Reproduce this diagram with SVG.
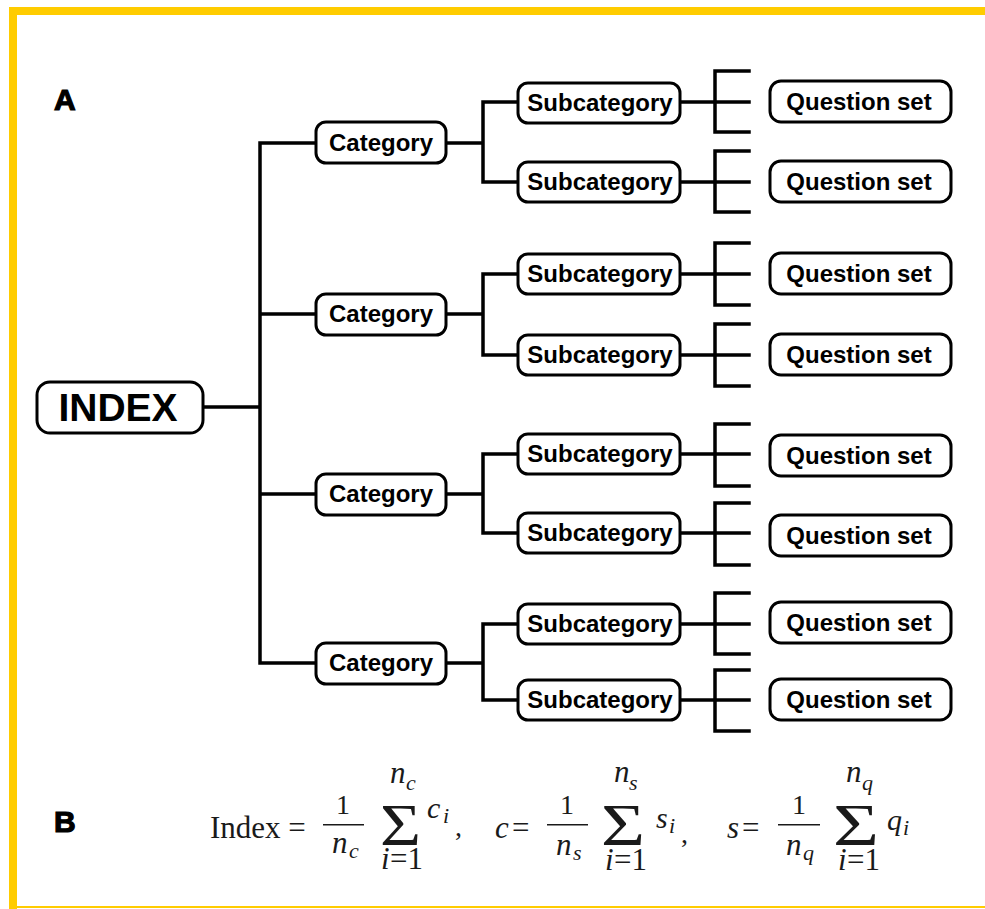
<svg xmlns="http://www.w3.org/2000/svg" width="985" height="909" viewBox="0 0 985 909">
<style>
.box{fill:#fff;stroke:#000;stroke-width:3}
.lbl{font-family:"Liberation Sans",Arial,sans-serif;font-weight:bold;font-size:24px;text-anchor:middle;fill:#000}
.ln{fill:none;stroke:#000;stroke-width:3.5;stroke-linejoin:miter;stroke-linecap:square}
.m{font-family:"Liberation Serif","Times New Roman",serif;fill:#1a1a1a}
.it{font-style:italic}
.big{font-family:"Liberation Sans",Arial,sans-serif;font-weight:900;font-size:30px;fill:#000;stroke:#000;stroke-width:1.2}
</style>
<rect x="0" y="0" width="985" height="909" fill="#fff"/>
<g id="frame">
<rect x="9" y="7" width="976" height="8" fill="#FFCC00"/>
<rect x="9" y="7" width="8" height="902" fill="#FFCC00"/>
<rect x="9" y="906" width="976" height="2" fill="#FFCC00"/>
</g>
<text class="big" x="54" y="110">A</text>
<text class="big" x="54" y="832">B</text>
<g id="connectors">
<path class="ln" d="M204 407H260M260 143V663M260 143H316M260 314H316M260 494H316M260 663H316"/>
<path class="ln" d="M446 143H483M483 102V182M483 102H518M483 182H518"/>
<path class="ln" d="M446 314H483M483 274V355M483 274H518M483 355H518"/>
<path class="ln" d="M446 494H483M483 454V533M483 454H518M483 533H518"/>
<path class="ln" d="M446 663H483M483 624V700M483 624H518M483 700H518"/>
<path class="ln" d="M680 102H749M749 71H715V132H749"/>
<path class="ln" d="M680 182H749M749 151H715V212H749"/>
<path class="ln" d="M680 274H749M749 243H715V305H749"/>
<path class="ln" d="M680 355H749M749 324H715V386H749"/>
<path class="ln" d="M680 454H749M749 424H715V486H749"/>
<path class="ln" d="M680 533H749M749 503H715V565H749"/>
<path class="ln" d="M680 624H749M749 593H715V654H749"/>
<path class="ln" d="M680 700H749M749 670H715V731H749"/>
</g>
<g id="index"><rect class="box" x="37" y="382" width="166" height="51" rx="13"/><text class="lbl" x="118" y="421" style="font-size:39px">INDEX</text></g>
<g id="cat1"><rect class="box" x="316" y="122" width="130" height="41" rx="10"/><text class="lbl" x="381" y="151">Category</text></g>
<g id="cat2"><rect class="box" x="316" y="294" width="130" height="41" rx="10"/><text class="lbl" x="381" y="322">Category</text></g>
<g id="cat3"><rect class="box" x="316" y="474" width="130" height="41" rx="10"/><text class="lbl" x="381" y="502">Category</text></g>
<g id="cat4"><rect class="box" x="316" y="643" width="130" height="41" rx="10"/><text class="lbl" x="381" y="671">Category</text></g>
<g id="sub1"><rect class="box" x="518" y="83" width="162" height="40" rx="10"/><text class="lbl" x="600" y="111">Subcategory</text></g>
<g id="sub2"><rect class="box" x="518" y="162" width="162" height="40" rx="10"/><text class="lbl" x="600" y="190">Subcategory</text></g>
<g id="sub3"><rect class="box" x="518" y="254" width="162" height="40" rx="10"/><text class="lbl" x="600" y="282">Subcategory</text></g>
<g id="sub4"><rect class="box" x="518" y="335" width="162" height="40" rx="10"/><text class="lbl" x="600" y="363">Subcategory</text></g>
<g id="sub5"><rect class="box" x="518" y="434" width="162" height="40" rx="10"/><text class="lbl" x="600" y="462">Subcategory</text></g>
<g id="sub6"><rect class="box" x="518" y="513" width="162" height="40" rx="10"/><text class="lbl" x="600" y="541">Subcategory</text></g>
<g id="sub7"><rect class="box" x="518" y="604" width="162" height="40" rx="10"/><text class="lbl" x="600" y="632">Subcategory</text></g>
<g id="sub8"><rect class="box" x="518" y="680" width="162" height="40" rx="10"/><text class="lbl" x="600" y="708">Subcategory</text></g>
<g id="q1"><rect class="box" x="770" y="81" width="181" height="41" rx="11"/><text class="lbl" x="859" y="110">Question set</text></g>
<g id="q2"><rect class="box" x="770" y="161" width="181" height="41" rx="11"/><text class="lbl" x="859" y="190">Question set</text></g>
<g id="q3"><rect class="box" x="770" y="253" width="181" height="41" rx="11"/><text class="lbl" x="859" y="282">Question set</text></g>
<g id="q4"><rect class="box" x="770" y="334" width="181" height="41" rx="11"/><text class="lbl" x="859" y="363">Question set</text></g>
<g id="q5"><rect class="box" x="770" y="435" width="181" height="41" rx="11"/><text class="lbl" x="859" y="464">Question set</text></g>
<g id="q6"><rect class="box" x="770" y="515" width="181" height="41" rx="11"/><text class="lbl" x="859" y="544">Question set</text></g>
<g id="q7"><rect class="box" x="770" y="602" width="181" height="41" rx="11"/><text class="lbl" x="859" y="631">Question set</text></g>
<g id="q8"><rect class="box" x="770" y="679" width="181" height="41" rx="11"/><text class="lbl" x="859" y="708">Question set</text></g>
<g id="formula">
<text class="m" x="210" y="838" font-size="31">Index =</text>
<text class="m" x="343" y="814" font-size="28" text-anchor="middle">1</text>
<rect x="323" y="824" width="41" height="1.5" fill="#1a1a1a"/>
<text class="m it" x="332" y="853" font-size="31">n</text><text class="m it" x="349" y="858" font-size="22">c</text>
<text class="m" transform="translate(380,845) scale(1,1.36)" font-size="44" textLength="41" lengthAdjust="spacingAndGlyphs">Σ</text>
<text class="m it" x="390" y="783" font-size="31">n</text><text class="m it" x="406" y="790" font-size="22">c</text>
<text class="m it" x="381" y="869" font-size="31">i</text><text class="m" x="390" y="869" font-size="31">=1</text>
<text class="m it" x="427" y="818" font-size="30">c</text><text class="m it" x="443" y="823" font-size="22">i</text>
<text class="m" x="455" y="836" font-size="28">,</text>
<text class="m it" x="495" y="838" font-size="31">c</text><text class="m" x="512" y="838" font-size="31">=</text>
<text class="m" x="567" y="814" font-size="28" text-anchor="middle">1</text>
<rect x="547" y="824" width="41" height="1.5" fill="#1a1a1a"/>
<text class="m it" x="556" y="855" font-size="31">n</text><text class="m it" x="573" y="860" font-size="22">s</text>
<text class="m" transform="translate(601,845) scale(1,1.36)" font-size="44" textLength="44" lengthAdjust="spacingAndGlyphs">Σ</text>
<text class="m it" x="614" y="782" font-size="31">n</text><text class="m it" x="629" y="790" font-size="22">s</text>
<text class="m it" x="605" y="870" font-size="31">i</text><text class="m" x="614" y="870" font-size="31">=1</text>
<text class="m it" x="656" y="828" font-size="30">s</text><text class="m it" x="669" y="833" font-size="22">i</text>
<text class="m" x="681" y="843" font-size="28">,</text>
<text class="m it" x="727" y="838" font-size="31">s</text><text class="m" x="742" y="838" font-size="31">=</text>
<text class="m" x="799" y="814" font-size="28" text-anchor="middle">1</text>
<rect x="778" y="824" width="42" height="1.5" fill="#1a1a1a"/>
<text class="m it" x="786" y="855" font-size="31">n</text><text class="m it" x="803" y="860" font-size="22">q</text>
<text class="m" transform="translate(833,845) scale(1,1.36)" font-size="44" textLength="46" lengthAdjust="spacingAndGlyphs">Σ</text>
<text class="m it" x="846" y="782" font-size="31">n</text><text class="m it" x="862" y="790" font-size="22">q</text>
<text class="m it" x="838" y="870" font-size="31">i</text><text class="m" x="847" y="870" font-size="31">=1</text>
<text class="m it" x="887" y="830" font-size="30">q</text><text class="m it" x="903" y="835" font-size="22">i</text>
</g>
</svg>
